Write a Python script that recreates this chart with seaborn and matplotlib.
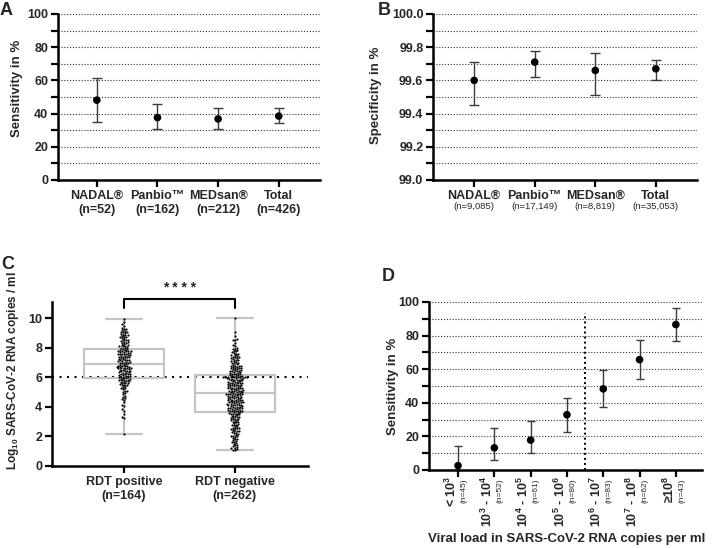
import numpy as np
import pandas as pd
import matplotlib
matplotlib.use("Agg")
import matplotlib.pyplot as plt
import seaborn as sns
from matplotlib.ticker import MultipleLocator, FormatStrFormatter
from matplotlib.transforms import blended_transform_factory

# ---------------- data ----------------
# Panel A: sensitivity per test
a_labels = ["NADAL®\n(n=52)", "Panbio™\n(n=162)", "MEDsan®\n(n=212)", "Total\n(n=426)"]
a_sens = [48.1, 37.6, 36.8, 38.5]
a_low = [35.2, 30.7, 30.6, 34.1]
a_high = [61.2, 45.5, 43.6, 43.3]

# Panel B: specificity per test
b_names = ["NADAL®", "Panbio™", "MEDsan®", "Total"]
b_n = ["(n=9,085)", "(n=17,149)", "(n=8,819)", "(n=35,053)"]
b_spec = [99.60, 99.71, 99.66, 99.67]
b_low = [99.45, 99.62, 99.51, 99.60]
b_high = [99.71, 99.78, 99.765, 99.72]

# Panel C: log10 viral load by RDT result
c_groups = ["RDT positive\n(n=164)", "RDT negative\n(n=262)"]
c_pos = [
    2.15, 3.25, 3.35, 3.55, 3.75, 3.85, 4.05, 4.15, 4.3, 4.45,
    4.55, 4.6, 4.7, 4.75, 4.85, 4.95, 5.0, 5.05, 5.1, 5.2,
    5.25, 5.3, 5.35, 5.4, 5.45, 5.5, 5.5, 5.55, 5.6, 5.6,
    5.65, 5.7, 5.7, 5.75, 5.75, 5.8, 5.8, 5.85, 5.85, 5.9, 5.9,
    5.95, 5.95, 6.0, 6.0, 6.05, 6.05, 6.1, 6.1, 6.15, 6.15,
    6.2, 6.2, 6.25, 6.25, 6.3, 6.3, 6.35, 6.35, 6.4, 6.4,
    6.45, 6.45, 6.5, 6.5, 6.55, 6.55, 6.6, 6.6, 6.6, 6.65,
    6.65, 6.7, 6.7, 6.7, 6.75, 6.75, 6.8, 6.8, 6.85, 6.85, 6.9,
    6.95, 6.95, 7.0, 7.0, 7.05, 7.05, 7.1, 7.1, 7.15, 7.15,
    7.2, 7.2, 7.25, 7.25, 7.3, 7.3, 7.35, 7.35, 7.4, 7.4,
    7.45, 7.45, 7.5, 7.5, 7.55, 7.55, 7.6, 7.6, 7.6, 7.65,
    7.65, 7.7, 7.7, 7.75, 7.75, 7.8, 7.8, 7.8, 7.85, 7.85, 7.9,
    7.95, 8.0, 8.0, 8.05, 8.1, 8.1, 8.15, 8.2, 8.2, 8.25,
    8.3, 8.35, 8.4, 8.4, 8.45, 8.5, 8.5, 8.55, 8.6, 8.65,
    8.7, 8.7, 8.75, 8.8, 8.85, 8.9, 8.9, 8.95, 9.0, 9.05,
    9.1, 9.1, 9.15, 9.2, 9.25, 9.3, 9.35, 9.5, 9.6, 9.75, 9.95,
]
c_neg = [
    1.1, 1.15, 1.2, 1.3, 1.35, 1.4, 1.45, 1.5, 1.55, 1.6,
    1.7, 1.75, 1.8, 1.85, 1.9, 1.95, 2.0, 2.0, 2.05, 2.1,
    2.15, 2.2, 2.25, 2.3, 2.35, 2.4, 2.4, 2.45, 2.5, 2.55,
    2.6, 2.6, 2.65, 2.7, 2.75, 2.8, 2.8, 2.85, 2.9, 2.95,
    3.0, 3.0, 3.05, 3.1, 3.1, 3.15, 3.2, 3.2, 3.25, 3.3,
    3.3, 3.35, 3.4, 3.4, 3.45, 3.5, 3.5, 3.55, 3.55, 3.6,
    3.6, 1.08, 1.25, 1.65, 2.5,
    3.65, 3.65, 3.7, 3.7, 3.7, 3.75, 3.75, 3.8, 3.8, 3.8,
    3.85, 3.85, 3.9, 3.9, 3.9, 3.95, 3.95, 4.0, 4.0, 4.0,
    4.05, 4.05, 4.1, 4.1, 4.1, 4.15, 4.15, 4.2, 4.2, 4.2,
    4.25, 4.25, 4.3, 4.3, 4.3, 4.35, 4.35, 4.4, 4.4, 4.4,
    4.45, 4.45, 4.5, 4.5, 4.5, 4.55, 4.55, 4.6, 4.6, 4.6,
    4.65, 4.65, 4.7, 4.7, 4.7, 4.75, 4.75, 4.8, 4.8, 4.8,
    4.85, 4.85, 4.85, 4.9, 4.9, 4.9,
    4.95, 4.95, 5.0, 5.0, 5.0, 5.05, 5.05, 5.1, 5.1, 5.1,
    5.15, 5.15, 5.2, 5.2, 5.2, 5.25, 5.25, 5.3, 5.3, 5.3,
    5.35, 5.35, 5.4, 5.4, 5.4, 5.45, 5.45, 5.5, 5.5, 5.5,
    5.55, 5.55, 5.6, 5.6, 5.6, 5.65, 5.65, 5.7, 5.7, 5.7,
    5.75, 5.75, 5.8, 5.8, 5.8, 5.85, 5.85, 5.9, 5.9, 5.9,
    5.95, 5.95, 5.95, 6.0, 6.0, 6.0, 6.0, 6.0, 6.05, 6.05,
    6.05, 6.05, 6.1, 6.1, 6.1,
    6.15, 6.15, 6.2, 6.2, 6.25, 6.25, 6.3, 6.3, 6.35, 6.35,
    6.4, 6.4, 6.45, 6.45, 6.5, 6.5, 6.55, 6.55, 6.6, 6.6,
    6.65, 6.65, 6.7, 6.7, 6.75, 6.75, 6.8, 6.8, 6.85, 6.9,
    6.95, 7.0, 7.0, 7.05, 7.1, 7.1, 7.15, 7.2, 7.25, 7.3,
    7.3, 7.35, 7.4, 7.45, 7.5, 7.5, 7.55, 7.6, 7.65, 7.7,
    7.75, 7.8, 7.85, 7.9, 7.95, 8.0, 8.1, 8.2, 8.3, 8.55,
    8.55, 8.6, 8.8, 9.05, 10.0, 7.4,
]
c_cutoff = 6.0

# Panel D: sensitivity by viral load bin
d_bins = [r"< $10^3$", r"$10^3$ - $10^4$", r"$10^4$ - $10^5$", r"$10^5$ - $10^6$",
          r"$10^6$ - $10^7$", r"$10^7$ - $10^8$", r"≥$10^8$"]
d_n = ["(n=45)", "(n=52)", "(n=61)", "(n=80)", "(n=83)", "(n=62)", "(n=43)"]
d_sens = [2.6, 13.2, 17.8, 32.9, 48.3, 65.7, 86.6]
d_low = [0.0, 6.2, 10.0, 22.8, 37.7, 54.3, 76.6]
d_high = [14.2, 24.9, 29.3, 43.1, 59.3, 77.2, 96.6]

# ---------------- style ----------------
sns.set_style("ticks")
plt.rcParams["font.family"] = ["Liberation Sans", "DejaVu Sans"]
plt.rcParams["font.weight"] = "bold"
plt.rcParams["axes.labelweight"] = "bold"
plt.rcParams["mathtext.fontset"] = "custom"
plt.rcParams["mathtext.rm"] = "Liberation Sans"
plt.rcParams["mathtext.bf"] = "Liberation Sans:bold"
plt.rcParams["mathtext.it"] = "Liberation Sans:italic"
plt.rcParams["mathtext.default"] = "bf"

W, H = 713, 548
fig = plt.figure(figsize=(W / 100, H / 100), dpi=100)


def rect(l, r, t, b):
    return [l / W, 1 - b / H, (r - l) / W, (b - t) / H]


def style_axes(ax):
    for s in ["top", "right"]:
        ax.spines[s].set_visible(False)
    for s in ["left", "bottom"]:
        ax.spines[s].set_linewidth(1.8)
        ax.spines[s].set_color("black")
    ax.tick_params(axis="both", which="major", length=5, width=1.6, color="black",
                   labelsize=9, pad=2)
    ax.tick_params(axis="y", which="minor", length=5, width=1.6, color="black")
    ax.tick_params(axis="x", which="minor", length=0)
    for lab in ax.get_yticklabels() + ax.get_xticklabels():
        lab.set_fontweight("bold")


def dotted_grid(ax):
    ax.yaxis.grid(True, which="both", linestyle=(0, (1, 1.6)), color="#333333",
                  linewidth=0.8)
    ax.xaxis.grid(False)
    ax.set_axisbelow(True)


# ---------------- Panel A ----------------
axA = fig.add_axes(rect(58, 320, 14, 180))
xa = np.arange(len(a_labels))
axA.errorbar(xa, a_sens, yerr=[np.array(a_sens) - np.array(a_low),
                               np.array(a_high) - np.array(a_sens)],
             fmt="none", ecolor="#3c3c3c", elinewidth=1.0, capsize=3.6, capthick=1.0, zorder=2)
sns.scatterplot(x=xa, y=a_sens, color="black", s=30, edgecolor="none", ax=axA, zorder=3)
axA.set_xlim(-0.64, 3.68)
axA.set_ylim(0, 100)
axA.yaxis.set_major_locator(MultipleLocator(20))
axA.yaxis.set_minor_locator(MultipleLocator(10))
axA.set_xticks(xa)
axA.set_xticklabels(a_labels, fontsize=9, fontweight="bold")
axA.tick_params(axis="x", pad=4)
axA.set_ylabel("Sensitivity in %", fontsize=9.5, fontweight="bold")
axA.yaxis.set_label_coords(-0.135, 0.55)
dotted_grid(axA)
style_axes(axA)

# ---------------- Panel B ----------------
axB = fig.add_axes(rect(433, 697, 14, 180))
xb = np.arange(len(b_names))
axB.errorbar(xb, b_spec, yerr=[np.array(b_spec) - np.array(b_low),
                               np.array(b_high) - np.array(b_spec)],
             fmt="none", ecolor="#3c3c3c", elinewidth=1.0, capsize=3.6, capthick=1.0, zorder=2)
sns.scatterplot(x=xb, y=b_spec, color="black", s=30, edgecolor="none", ax=axB, zorder=3)
axB.set_xlim(-0.68, 3.68)
axB.set_ylim(99.0, 100.0)
axB.yaxis.set_major_locator(MultipleLocator(0.2))
axB.yaxis.set_minor_locator(MultipleLocator(0.1))
axB.yaxis.set_major_formatter(FormatStrFormatter("%.1f"))
axB.set_xticks(xb)
axB.set_xticklabels(b_names, fontsize=9, fontweight="bold")
axB.tick_params(axis="x", pad=3)
trB = blended_transform_factory(axB.transData, axB.transAxes)
for i, t in enumerate(b_n):
    axB.text(xb[i], -0.158, t, transform=trB, ha="center", va="center",
             fontsize=6.8, fontweight="normal")
axB.set_ylabel("Specificity in %", fontsize=9.5, fontweight="bold")
axB.yaxis.set_label_coords(-0.195, 0.51)
dotted_grid(axB)
style_axes(axB)

# ---------------- Panel C ----------------
axC = fig.add_axes(rect(52, 308, 302, 466))
dfC = pd.DataFrame({
    "group": [c_groups[0]] * len(c_pos) + [c_groups[1]] * len(c_neg),
    "value": c_pos + c_neg,
})
sns.boxplot(data=dfC, x="group", y="value", order=c_groups, fill=False,
            color="#c4c4c4", linewidth=1.6, width=0.72, whis=(0, 100),
            showfliers=False, capwidths=0.32, ax=axC)
sns.swarmplot(data=dfC, x="group", y="value", order=c_groups, color="black",
              size=1.55, ax=axC, zorder=3)
axC.axhline(c_cutoff, color="black", linestyle=(0, (1, 2.6)), linewidth=1.5, zorder=1)
axC.set_xlim(-0.65, 1.66)
axC.set_ylim(0, 11.1)
axC.yaxis.set_major_locator(MultipleLocator(2))
axC.set_xticks([0, 1])
axC.set_xticklabels(c_groups, fontsize=9, fontweight="bold")
axC.tick_params(axis="x", pad=4)
axC.set_xlabel("")
axC.set_ylabel(r"Log$_{\mathregular{10}}$ SARS-CoV-2 RNA copies / ml", fontsize=8.5,
               fontweight="bold")
axC.yaxis.set_label_coords(-0.12, 0.585)
# significance bracket
axC.plot([0, 0, 1, 1], [10.68, 11.33, 11.33, 10.68], color="black", linewidth=1.5,
         clip_on=False, zorder=4)
axC.text(0.5, 11.55, "* * * *", ha="center", va="bottom", fontsize=10, fontweight="bold")
style_axes(axC)

# ---------------- Panel D ----------------
axD = fig.add_axes(rect(429, 702, 302, 470))
xd = np.arange(len(d_bins))
axD.errorbar(xd, d_sens, yerr=[np.array(d_sens) - np.array(d_low),
                               np.array(d_high) - np.array(d_sens)],
             fmt="none", ecolor="#3c3c3c", elinewidth=1.0, capsize=3.0, capthick=1.0,
             zorder=2, clip_on=False)
sns.scatterplot(x=xd, y=d_sens, color="black", s=30, edgecolor="none", ax=axD, zorder=3,
                clip_on=False)
axD.plot([3.5, 3.5], [0, 93.5], color="black", linestyle=(0, (1, 1.6)), linewidth=1.4, zorder=2)
axD.set_xlim(-0.8, 6.72)
axD.set_ylim(0, 100)
axD.yaxis.set_major_locator(MultipleLocator(20))
axD.yaxis.set_minor_locator(MultipleLocator(10))
axD.set_xticks(xd)
axD.set_xticklabels([])
trD = blended_transform_factory(axD.transData, axD.transAxes)
for i in range(len(d_bins)):
    axD.text(xd[i] - 0.19, -0.035, d_bins[i], transform=trD, rotation=90, ha="center",
             va="top", fontsize=9, fontweight="bold")
    axD.text(xd[i] + 0.16, -0.05, d_n[i], transform=trD, rotation=90, ha="center",
             va="top", fontsize=6.0, fontweight="normal")
axD.text(0.505, -0.41, "Viral load in SARS-CoV-2 RNA copies per ml", transform=axD.transAxes,
         ha="center", va="center", fontsize=9.5, fontweight="bold")
axD.set_ylabel("Sensitivity in %", fontsize=9.5, fontweight="bold")
axD.yaxis.set_label_coords(-0.11, 0.5)
dotted_grid(axD)
style_axes(axD)

# ---------------- panel letters ----------------
for letter, x, yb in [("A", 0, 15), ("B", 378, 15), ("C", 1, 269), ("D", 382, 281)]:
    fig.text(x / W, 1 - yb / H, letter, ha="left", va="baseline", fontsize=13,
             fontweight="bold")

fig.savefig("out.png", dpi=100)
